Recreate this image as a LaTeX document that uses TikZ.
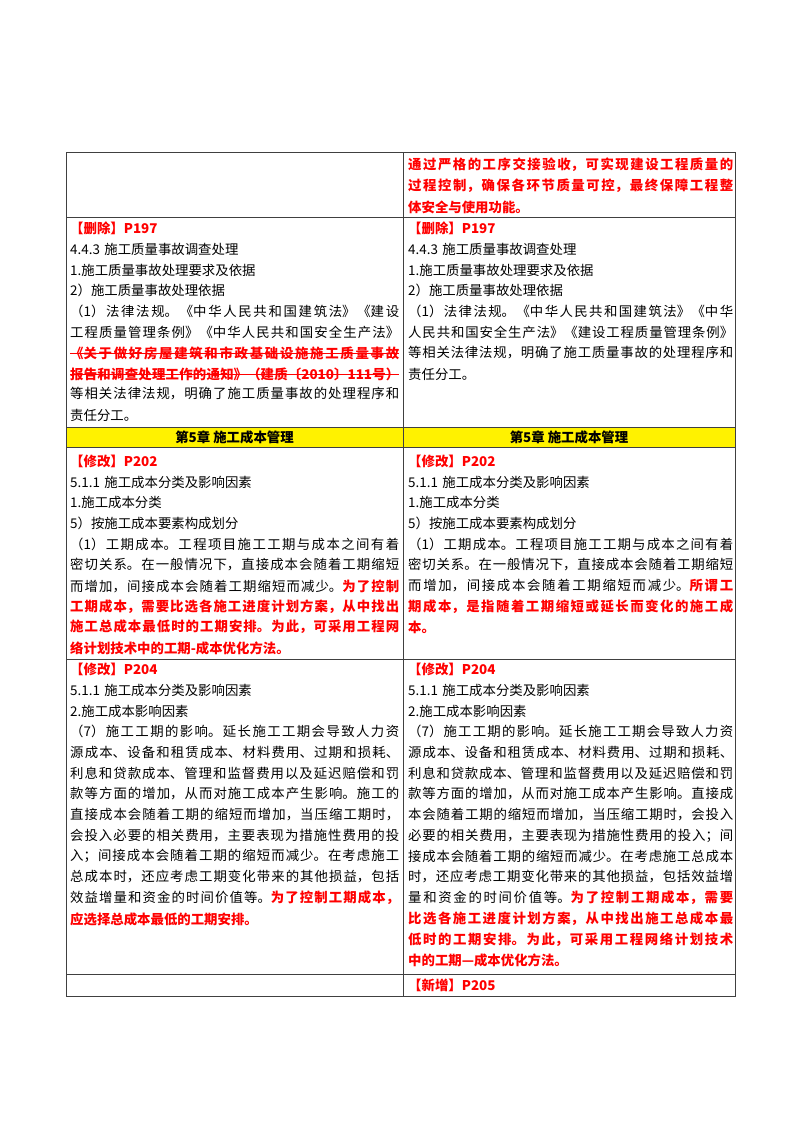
\documentclass[tikz,border=0pt]{standalone}
\usepackage{fontspec}
\setmainfont{Noto Sans CJK SC}
\XeTeXlinebreaklocale "zh"
\XeTeXlinebreakskip=0pt plus 4pt
\newcommand\RB[1]{{\bfseries\color{red}#1}}
\tikzset{txt/.style={anchor=west,inner sep=0pt,font=\fontsize{13.4pt}{16pt}\selectfont,text width=#1},
 grid/.style={draw=black!75,line width=0.8pt}}
\newcommand\FL[4]{\node[txt=#1] (#2) at (#3) {\parfillskip=0pt\rightskip=0pt\leftskip=0pt\relax #4\par};}
\newcommand\SL[4]{\node[txt=#1] (#2) at (#3) {#4};}
\begin{document}
\begin{tikzpicture}[x=1pt,y=-1pt]
\useasboundingbox (0,0) rectangle (800,1132);
\fill[white] (0,0) rectangle (800,1132);
\fill[yellow] (66,427) rectangle (735,447);
\draw[grid] (66,152) rectangle (735,996);
\foreach \yy in {217,427,447,659,974} \draw[grid] (66,\yy) -- (735,\yy);
\draw[grid] (403,152) -- (403,996);
% row 1
\FL{325pt}{r1a}{408,165}{\RB{通过严格的工序交接验收，可实现建设工程质量的}}
\FL{325pt}{r1b}{408,186}{\RB{过程控制，确保各环节质量可控，最终保障工程整}}
\SL{325pt}{r1c}{408,207}{\RB{体安全与使用功能。}}
% row 2 left
\SL{329pt}{a1}{70,228}{\RB{【删除】P197}}
\SL{329pt}{a2}{70,249}{4.4.3 施工质量事故调查处理}
\SL{329pt}{a3}{70,270}{1.施工质量事故处理要求及依据}
\SL{329pt}{a4}{70,290}{2）施工质量事故处理依据}
\FL{329pt}{a5}{70,311}{（1）法律法规。《中华人民共和国建筑法》《建设}
\FL{329pt}{a6}{70,332}{工程质量管理条例》《中华人民共和国安全生产法》}
\FL{329pt}{a7}{70,353}{\RB{《关于做好房屋建筑和市政基础设施施工质量事故}}
\FL{329pt}{a8}{70,374}{\RB{报告和调查处理工作的通知》（建质〔2010〕111号）}}
\FL{329pt}{a9}{70,394}{等相关法律法规，明确了施工质量事故的处理程序和}
\SL{329pt}{a10}{70,415}{责任分工。}
\draw[red,line width=1pt] (a7.west) -- (a7.east);
\draw[red,line width=1pt] (a8.west) -- (a8.east);
% row 2 right
\SL{325pt}{b1}{408,228}{\RB{【删除】P197}}
\SL{325pt}{b2}{408,249}{4.4.3 施工质量事故调查处理}
\SL{325pt}{b3}{408,270}{1.施工质量事故处理要求及依据}
\SL{325pt}{b4}{408,290}{2）施工质量事故处理依据}
\FL{325pt}{b5}{408,311}{（1）法律法规。《中华人民共和国建筑法》《中华}
\FL{325pt}{b6}{408,332}{人民共和国安全生产法》《建设工程质量管理条例》}
\FL{325pt}{b7}{408,353}{等相关法律法规，明确了施工质量事故的处理程序和}
\SL{325pt}{b8}{408,374}{责任分工。}
% yellow row
\node[inner sep=0pt,font=\fontsize{13.4pt}{16pt}\selectfont\bfseries] (h1) at (234.5,437) {第5章\ 施工成本管理};
\node[inner sep=0pt,font=\fontsize{13.4pt}{16pt}\selectfont\bfseries] (h2) at (569,437) {第5章\ 施工成本管理};
% row 3 left
\SL{329pt}{c1}{70,461}{\RB{【修改】P202}}
\SL{329pt}{c2}{70,482}{5.1.1 施工成本分类及影响因素}
\SL{329pt}{c3}{70,502}{1.施工成本分类}
\SL{329pt}{c4}{70,523}{5）按施工成本要素构成划分}
\FL{329pt}{c5}{70,544}{（1）工期成本。工程项目施工工期与成本之间有着}
\FL{329pt}{c6}{70,565}{密切关系。在一般情况下，直接成本会随着工期缩短}
\FL{329pt}{c7}{70,586}{而增加，间接成本会随着工期缩短而减少。\RB{为了控制}}
\FL{329pt}{c8}{70,607}{\RB{工期成本，需要比选各施工进度计划方案，从中找出}}
\FL{329pt}{c9}{70,627}{\RB{施工总成本最低时的工期安排。为此，可采用工程网}}
\SL{329pt}{c10}{70,648}{\RB{络计划技术中的工期-成本优化方法。}}
% row 3 right
\SL{325pt}{d1}{408,461}{\RB{【修改】P202}}
\SL{325pt}{d2}{408,482}{5.1.1 施工成本分类及影响因素}
\SL{325pt}{d3}{408,502}{1.施工成本分类}
\SL{325pt}{d4}{408,523}{5）按施工成本要素构成划分}
\FL{325pt}{d5}{408,544}{（1）工期成本。工程项目施工工期与成本之间有着}
\FL{325pt}{d6}{408,565}{密切关系。在一般情况下，直接成本会随着工期缩短}
\FL{325pt}{d7}{408,586}{而增加，间接成本会随着工期缩短而减少。\RB{所谓工}}
\FL{325pt}{d8}{408,607}{\RB{期成本，是指随着工期缩短或延长而变化的施工成}}
\SL{325pt}{d9}{408,627}{\RB{本。}}
% row 4 left
\SL{329pt}{e1}{70,669}{\RB{【修改】P204}}
\SL{329pt}{e2}{70,690}{5.1.1 施工成本分类及影响因素}
\SL{329pt}{e3}{70,711}{2.施工成本影响因素}
\FL{329pt}{e4}{70,731}{（7）施工工期的影响。延长施工工期会导致人力资}
\FL{329pt}{e5}{70,752}{源成本、设备和租赁成本、材料费用、过期和损耗、}
\FL{329pt}{e6}{70,773}{利息和贷款成本、管理和监督费用以及延迟赔偿和罚}
\FL{329pt}{e7}{70,794}{款等方面的增加，从而对施工成本产生影响。施工的}
\FL{329pt}{e8}{70,815}{直接成本会随着工期的缩短而增加，当压缩工期时，}
\FL{329pt}{e9}{70,836}{会投入必要的相关费用，主要表现为措施性费用的投}
\FL{329pt}{e10}{70,856}{入；间接成本会随着工期的缩短而减少。在考虑施工}
\FL{329pt}{e11}{70,877}{总成本时，还应考虑工期变化带来的其他损益，包括}
\FL{329pt}{e12}{70,898}{效益增量和资金的时间价值等。\RB{为了控制工期成本，}}
\SL{329pt}{e13}{70,919}{\RB{应选择总成本最低的工期安排。}}
% row 4 right
\SL{325pt}{f1}{408,669}{\RB{【修改】P204}}
\SL{325pt}{f2}{408,690}{5.1.1 施工成本分类及影响因素}
\SL{325pt}{f3}{408,711}{2.施工成本影响因素}
\FL{325pt}{f4}{408,731}{（7）施工工期的影响。延长施工工期会导致人力资}
\FL{325pt}{f5}{408,752}{源成本、设备和租赁成本、材料费用、过期和损耗、}
\FL{325pt}{f6}{408,773}{利息和贷款成本、管理和监督费用以及延迟赔偿和罚}
\FL{325pt}{f7}{408,794}{款等方面的增加，从而对施工成本产生影响。直接成}
\FL{325pt}{f8}{408,815}{本会随着工期的缩短而增加，当压缩工期时，会投入}
\FL{325pt}{f9}{408,836}{必要的相关费用，主要表现为措施性费用的投入；间}
\FL{325pt}{f10}{408,856}{接成本会随着工期的缩短而减少。在考虑施工总成本}
\FL{325pt}{f11}{408,877}{时，还应考虑工期变化带来的其他损益，包括效益增}
\FL{325pt}{f12}{408,898}{量和资金的时间价值等。\RB{为了控制工期成本，需要}}
\FL{325pt}{f13}{408,919}{\RB{比选各施工进度计划方案，从中找出施工总成本最}}
\FL{325pt}{f14}{408,940}{\RB{低时的工期安排。为此，可采用工程网络计划技术}}
\SL{325pt}{f15}{408,960}{\RB{中的工期—成本优化方法。}}
% row 5
\SL{325pt}{g1}{408,985}{\RB{【新增】P205}}
\end{tikzpicture}
\end{document}
